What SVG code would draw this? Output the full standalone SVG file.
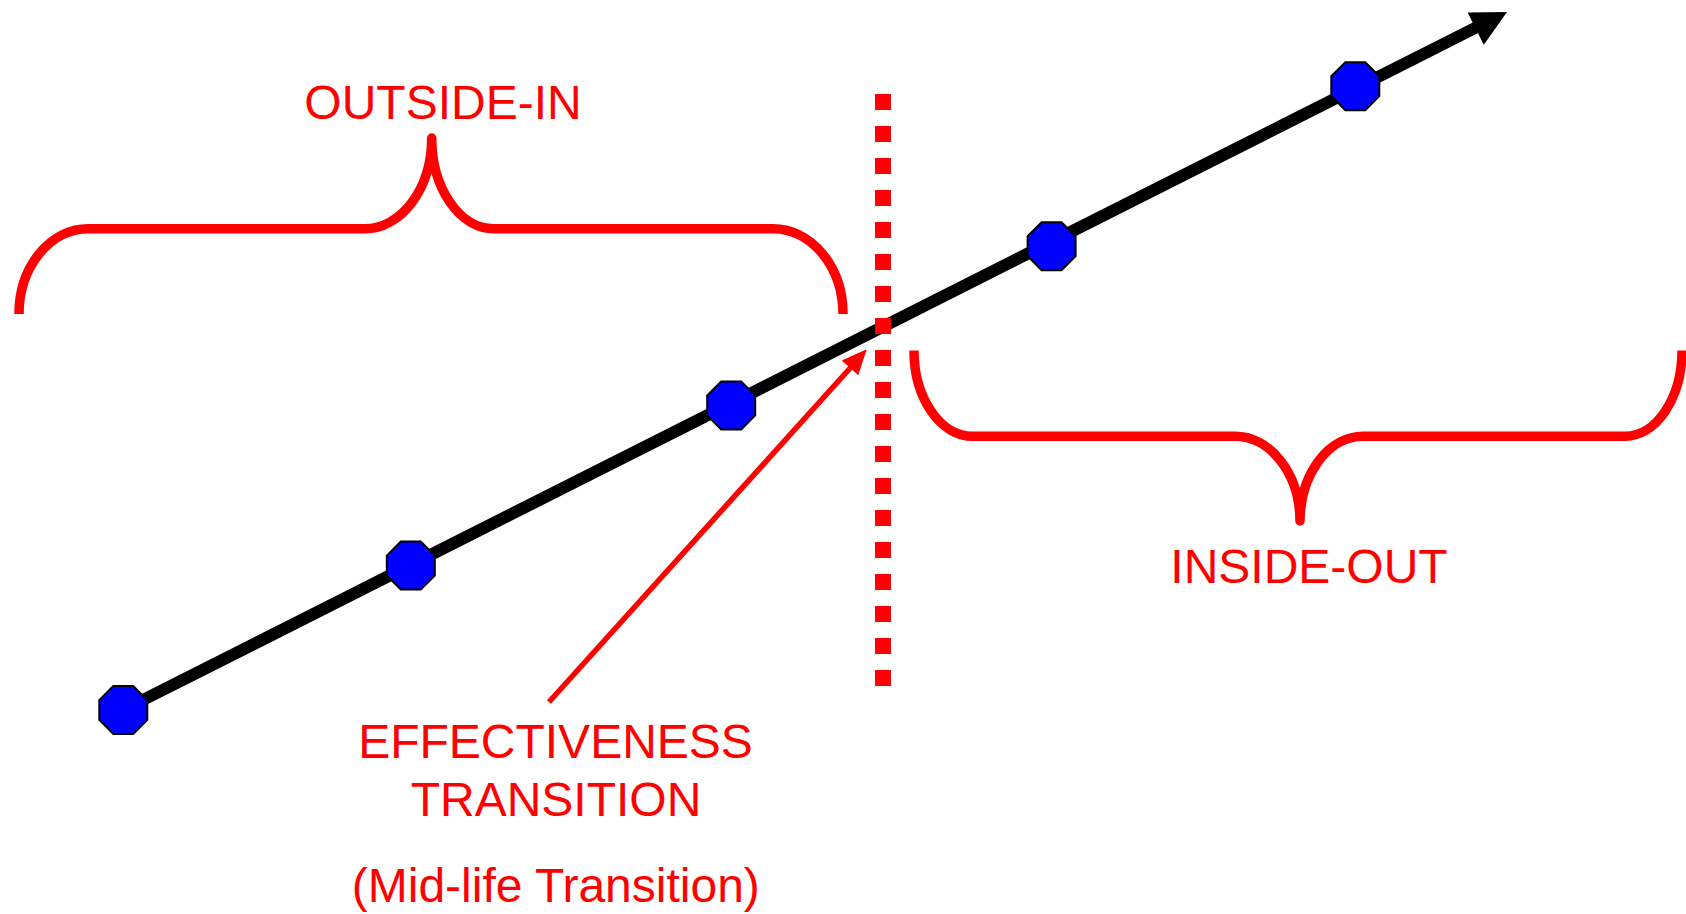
<svg xmlns="http://www.w3.org/2000/svg" width="1686" height="914" viewBox="0 0 1686 914">
  <style>
    .lbl { font-family: "Liberation Sans", Arial, sans-serif; font-size: 48px; fill: #FF0000; text-anchor: middle; }
    .brace { fill: none; stroke: #FF0000; stroke-width: 9.5; stroke-linejoin: round; stroke-linecap: butt; }
    .oct { fill: #0000FF; stroke: #000000; stroke-width: 2; }
  </style>
  <defs>
    <polygon id="octShape" class="oct" points="-9.94,-24 9.94,-24 24,-9.94 24,9.94 9.94,24 -9.94,24 -24,9.94 -24,-9.94"/>
  </defs>
  <rect width="1686" height="914" fill="#FFFFFF"/>

  <g id="connectors">
    <!-- main timeline -->
    <line x1="123" y1="710" x2="1477" y2="27" stroke="#000000" stroke-width="12"/>
    <polygon points="1507,12 1467.6,12.6 1483.8,44.8" fill="#000000"/>
    <!-- dashed divider -->
    <line x1="883" y1="94" x2="883" y2="686" stroke="#FF0000" stroke-width="16" stroke-dasharray="16 16"/>
    <!-- pointer arrow -->
    <line x1="549" y1="702" x2="852" y2="366" stroke="#FF0000" stroke-width="5.5"/>
    <polygon points="866.7,349.3 858.2,375.3 841.8,360.5" fill="#FF0000"/>
  </g>

  <g id="brace-outside-in">
    <path class="brace" d="M19,314 A69,85.3 0 0 1 88,228.7 H365 A66.7,90.7 0 0 0 431.7,138 A62,90.7 0 0 0 493.7,228.7 H773 A70,85.3 0 0 1 843,314"/>
  </g>
  <g id="brace-inside-out">
    <path class="brace" d="M914,350.5 A58.5,85.8 0 0 0 972.5,436.3 H1235 A65,85 0 0 1 1300,521 A63,85 0 0 1 1363,436.3 H1625 A57,85.8 0 0 0 1682,350.5"/>
  </g>

  <g id="node1"><use href="#octShape" x="123.3" y="710"/></g>
  <g id="node2"><use href="#octShape" x="410.8" y="565.6"/></g>
  <g id="node3"><use href="#octShape" x="731.2" y="405.4"/></g>
  <g id="node4"><use href="#octShape" x="1051.6" y="246.2"/></g>
  <g id="node5"><use href="#octShape" x="1355.3" y="86.2"/></g>

  <g id="label-outside-in"><text class="lbl" x="443" y="118.5">OUTSIDE-IN</text></g>
  <g id="label-inside-out"><text class="lbl" x="1309" y="583.3">INSIDE-OUT</text></g>
  <g id="label-transition">
    <text class="lbl" x="555.5" y="758.3">EFFECTIVENESS</text>
    <text class="lbl" x="556" y="816">TRANSITION</text>
    <text class="lbl" x="555.8" y="901.5">(Mid-life Transition)</text>
  </g>
</svg>
